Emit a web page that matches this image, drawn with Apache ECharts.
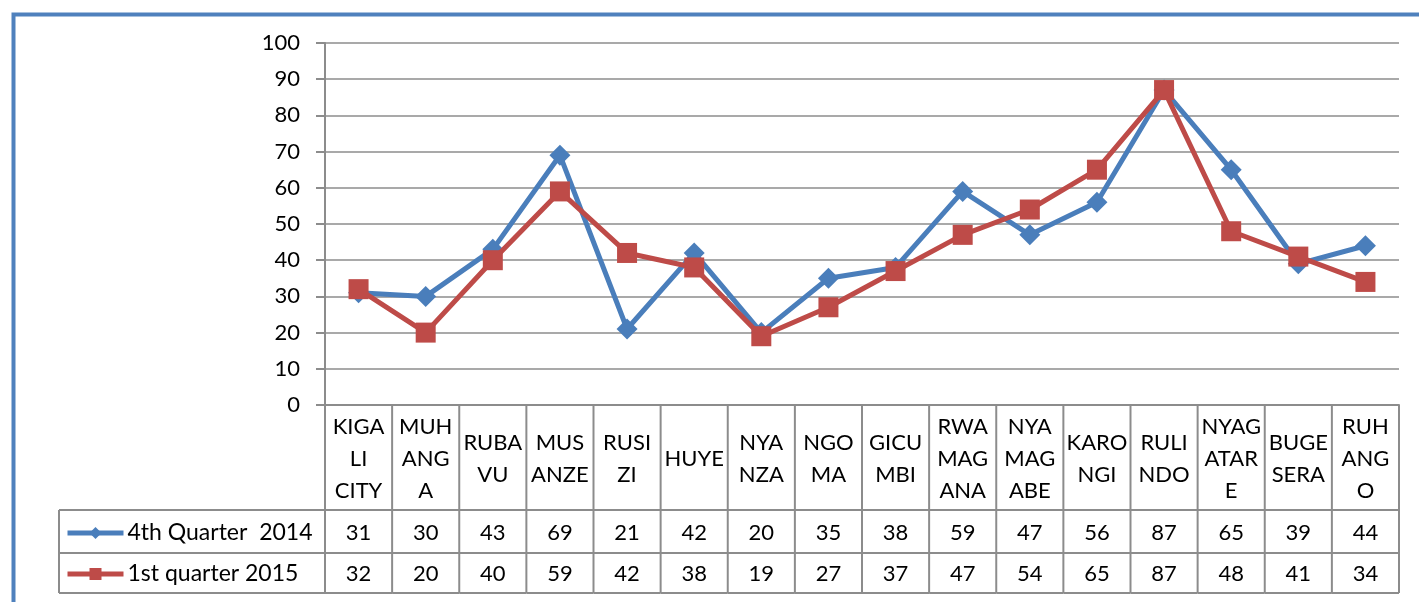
<!DOCTYPE html>
<html><head><meta charset="utf-8">
<script src="https://cdn.jsdelivr.net/npm/echarts@6/dist/echarts.min.js"></script>
<style>html,body{margin:0;padding:0;background:#fff}#c{width:1419px;height:602px}</style>
</head><body><div id="c"></div>
<script>
const categories = ["KIGA\nLI\nCITY","MUH\nANG\nA","RUBA\nVU","MUS\nANZE","RUSI\nZI","HUYE","NYA\nNZA","NGO\nMA","GICU\nMBI","RWA\nMAG\nANA","NYA\nMAG\nABE","KARO\nNGI","RULI\nNDO","NYAG\nATAR\nE","BUGE\nSERA","RUH\nANG\nO"];
const seriesNames = ["4th Quarter  2014", "1st quarter 2015"];
const q4_2014 = [31,30,43,69,21,42,20,35,38,59,47,56,87,65,39,44];
const q1_2015 = [32,20,40,59,42,38,19,27,37,47,54,65,87,48,41,34];
const yTicks = [0,10,20,30,40,50,60,70,80,90,100];

const FONT = 'Lato';
const GRAY = '#8c8c8c';
const BLUE = '#4a7ebb';
const RED = '#be4b48';
const LEGEND_LEFT = 59;
const ROW_CAT = 105, ROW_1 = 148, ROW_2 = 188;

const chart = echarts.init(document.getElementById('c'));
const tableData = categories.map((c, i) => [i, 0, q4_2014[i], q1_2015[i]]);

function line(x1, y1, x2, y2) {
  return {type: 'line', shape: {x1, y1, x2, y2}, style: {stroke: GRAY, lineWidth: 2}, silent: true};
}
function txt(x, y, t) {
  return {type: 'text', x, y, style: {text: t, font: '22px ' + FONT, fill: '#000', align: 'center', verticalAlign: 'middle', lineHeight: 32}, silent: true};
}

chart.setOption({
  animation: false,
  textStyle: {fontFamily: FONT},
  graphic: [{type: 'rect', shape: {x: 13.5, y: 14.5, width: 1500, height: 700}, style: {fill: null, stroke: '#4f81bd', lineWidth: 4}, silent: true, z: -10}],
  grid: {left: 325, right: 20, top: 43, bottom: 197},
  legend: {
    orient: 'vertical', left: 60, top: 514, itemGap: 13, itemWidth: 56, itemHeight: 15,
    lineStyle: {width: 5},
    textStyle: {fontSize: 23, fontFamily: FONT, color: '#000', lineHeight: 28, padding: [0, 0, 0, -1]},
    data: seriesNames
  },
  xAxis: {
    type: 'category', data: categories, boundaryGap: true,
    axisLine: {lineStyle: {color: GRAY, width: 2}},
    axisTick: {show: false}, axisLabel: {show: false}
  },
  yAxis: {
    type: 'value', min: 0, max: 100, interval: 10,
    axisLine: {show: true, lineStyle: {color: GRAY, width: 2}},
    axisTick: {show: true, length: 9, lineStyle: {color: GRAY, width: 2}},
    axisLabel: {fontSize: 22, fontFamily: FONT, color: '#000', margin: 25,
      formatter: v => yTicks.includes(v) ? String(v) : ''},
    splitLine: {lineStyle: {color: GRAY, width: 1.5}}
  },
  series: [
    {name: seriesNames[0], type: 'line', data: q4_2014, symbol: 'diamond', symbolSize: 21,
     lineStyle: {color: BLUE, width: 5}, itemStyle: {color: BLUE}, z: 3},
    {name: seriesNames[1], type: 'line', data: q1_2015, symbol: 'rect', symbolSize: 20,
     lineStyle: {color: RED, width: 5}, itemStyle: {color: RED}, z: 4},
    {type: 'custom', data: tableData, clip: false, silent: true, encode: {x: 0, y: 1}, z: 1,
     renderItem: function (params, api) {
       const i = api.value(0);
       const p = api.coord([i, 0]);
       const w = api.size([1, 0])[0];
       const x0 = p[0] - w / 2, x1 = p[0] + w / 2, y0 = p[1];
       const ch = [
         line(x0, y0, x0, y0 + ROW_2),
         line(x0, y0 + ROW_CAT, x1, y0 + ROW_CAT),
         line(x0, y0 + ROW_1, x1, y0 + ROW_1),
         line(x0, y0 + ROW_2, x1, y0 + ROW_2),
         txt(p[0], y0 + ROW_CAT / 2 + 1, categories[i]),
         txt(p[0], y0 + (ROW_CAT + ROW_1) / 2 + 1, String(api.value(2))),
         txt(p[0], y0 + (ROW_1 + ROW_2) / 2 + 1, String(api.value(3)))
       ];
       if (i === categories.length - 1) ch.push(line(x1, y0, x1, y0 + ROW_2));
       if (i === 0) {
         ch.push(line(LEGEND_LEFT, y0 + ROW_CAT, x0, y0 + ROW_CAT));
         ch.push(line(LEGEND_LEFT, y0 + ROW_1, x0, y0 + ROW_1));
         ch.push(line(LEGEND_LEFT, y0 + ROW_2, x0, y0 + ROW_2));
         ch.push(line(LEGEND_LEFT, y0 + ROW_CAT, LEGEND_LEFT, y0 + ROW_2));
       }
       return {type: 'group', children: ch};
     }}
  ]
});
</script></body></html>
